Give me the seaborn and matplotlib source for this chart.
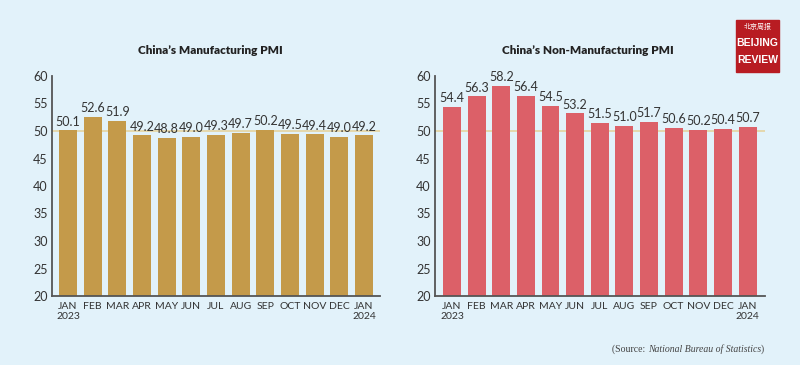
import matplotlib
matplotlib.use("Agg")
import matplotlib.pyplot as plt
import seaborn as sns
import pandas as pd
from matplotlib.patches import Rectangle

months = ["JAN\n2023", "FEB", "MAR", "APR", "MAY", "JUN", "JUL", "AUG",
          "SEP", "OCT", "NOV", "DEC", "JAN\n2024"]
manufacturing = [50.1, 52.6, 51.9, 49.2, 48.8, 49.0, 49.3, 49.7, 50.2, 49.5, 49.4, 49.0, 49.2]
non_manufacturing = [54.4, 56.3, 58.2, 56.4, 54.5, 53.2, 51.5, 51.0, 51.7, 50.6, 50.2, 50.4, 50.7]
y_ticks = [20, 25, 30, 35, 40, 45, 50, 55, 60]
titles = ["China\u2019s Manufacturing PMI", "China\u2019s Non-Manufacturing PMI"]

BG = "#e2f2fa"
TXT = "#333333"
sns.set_theme(style="white")
plt.rcParams["font.family"] = ["Lato", "DejaVu Sans"]

fig = plt.figure(figsize=(8, 3.65), dpi=100, facecolor=BG)

specs = [
    (manufacturing, "#c49a4a", [52/800, 1-296/365, (380-52)/800, (296-76)/365], (-0.65, 12.65), 210),
    (non_manufacturing, "#dc6068", [435/800, 1-296/365, (765-435)/800, (296-76)/365], (-0.69, 12.71), 588),
]

for (vals, color, pos, xl, tx), title in zip(specs, titles):
    ax = fig.add_axes(pos)
    ax.set_facecolor(BG)
    df = pd.DataFrame({"month": months, "pmi": vals})
    sns.barplot(data=df, x="month", y="pmi", order=months, color=color,
                width=0.73, saturation=1, ax=ax, zorder=2, linewidth=0)
    ax.axhline(50, color="#e5d6a6", lw=1.3, zorder=1)
    ax.set_ylim(20, 60)
    ax.set_xlim(*xl)
    ax.set_yticks(y_ticks)
    ax.set_yticklabels([str(t) for t in y_ticks], fontsize=9, color=TXT)
    ax.tick_params(axis="x", labelsize=7.5, colors=TXT, length=0, pad=4)
    ax.tick_params(axis="y", length=0, pad=3)
    ax.set_xlabel("")
    ax.set_ylabel("")
    for s in ["top", "right"]:
        ax.spines[s].set_visible(False)
    for s in ["left", "bottom"]:
        ax.spines[s].set_color("#555555")
        ax.spines[s].set_linewidth(1.3)
    for c in ax.containers:
        ax.bar_label(c, fmt="%.1f", fontsize=9, color=TXT, padding=2)
    fig.text(tx/800, 1-51/365, title, fontsize=8.5, fontweight="heavy",
             color="#222222", ha="center", va="center")

# Logo
fig.patches.append(Rectangle((736/800, 1-72/365), 43/800, 52/365,
                             transform=fig.transFigure, color="#b81c22", zorder=5))
fig.text(757.5/800, 1-27/365, "北京周报", fontsize=5, color="white", ha="center", va="center",
         family=["Noto Sans CJK SC", "DejaVu Sans"], zorder=6)
fig.text(757.5/800, 1-43/365, "BEIJING", fontsize=7.5, fontweight="bold", color="white",
         ha="center", va="center", family=["Liberation Sans", "DejaVu Sans"], zorder=6)
fig.text(757.5/800, 1-60/365, "REVIEW", fontsize=7.5, fontweight="bold", color="white",
         ha="center", va="center", family=["Liberation Sans", "DejaVu Sans"], zorder=6)

# Source
fig.canvas.draw()
r = fig.canvas.get_renderer()
x_right = 764/800
ys = 1-349/365
parts = [(")", "normal"), ("National Bureau of Statistics", "italic"), ("(Source: ", "normal")]
x = x_right
for txt, style in parts:
    t = fig.text(x, ys, txt, fontsize=7, style=style, color="#444444", ha="right", va="center",
                 family=["Liberation Serif", "DejaVu Serif"])
    bb = t.get_window_extent(renderer=r)
    x -= bb.width / fig.bbox.width

fig.savefig("out.png", dpi=100, facecolor=BG)
